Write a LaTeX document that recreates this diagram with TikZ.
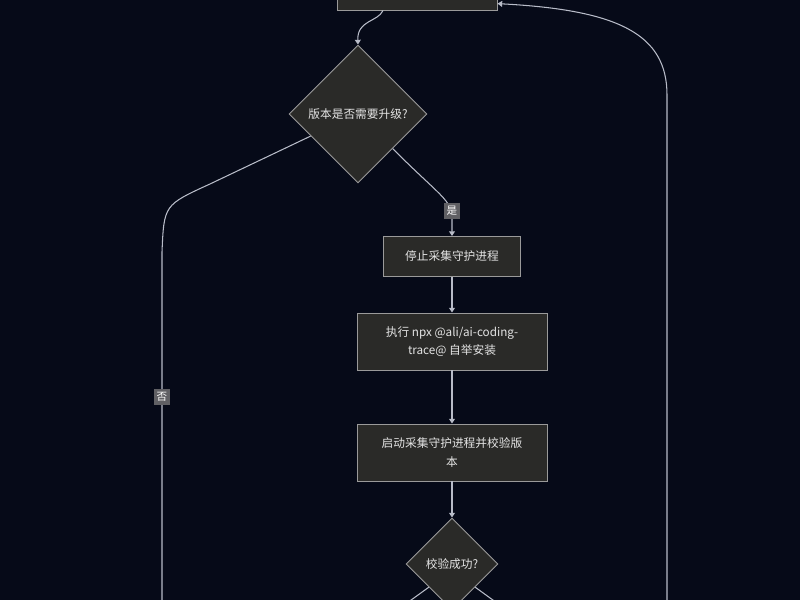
\documentclass[tikz,border=0pt]{standalone}
\usepackage{fontspec}
\setmainfont{Noto Sans CJK SC}
\usetikzlibrary{shapes.geometric,arrows.meta,calc}
\definecolor{bgc}{HTML}{060A18}
\definecolor{boxfill}{HTML}{2A2A28}
\definecolor{boxline}{HTML}{9A9A9A}
\definecolor{edgec}{HTML}{B8BCC8}
\definecolor{txtc}{HTML}{E4E4E4}
\definecolor{lblfill}{HTML}{606064}
\begin{document}
\begin{tikzpicture}[x=0.03cm,y=-0.03cm,>={Triangle[length=4pt,width=5pt]},
    font=\fontsize{10}{16}\selectfont,
    proc/.style={draw=boxline,fill=boxfill,text=txtc,line width=.8pt,align=center,inner sep=0pt},
    ask/.style={diamond,aspect=1,draw=boxline,fill=boxfill,text=txtc,line width=.8pt,inner sep=0pt},
    link/.style={draw=edgec,line width=.9pt,->},
    lbl/.style={fill=lblfill,text=white,inner xsep=2pt,inner ysep=3pt,font=\fontsize{9}{9}\selectfont}]
    \useasboundingbox (0,0) rectangle (800,600);
    \fill[bgc] (0,0) rectangle (800,600);
    \clip (0,0) rectangle (800,600);
    % nodes
    \node[proc,minimum width=4.8cm,minimum height=1.32cm] (top) at (417,-12) {};
    \node[ask,minimum size=4.14cm] (v1) at (358,114) {版本是否需要升级?};
    \node[proc,minimum width=4.11cm,minimum height=1.2cm] (stop) at (452,256.5) {停止采集守护进程};
    \node[proc,minimum width=5.7cm,minimum height=1.71cm] (inst) at (452,341.5) {执行 npx @ali/ai-coding-\\trace@ 自举安装};
    \node[proc,minimum width=5.7cm,minimum height=1.71cm] (start) at (452,452.5) {启动采集守护进程并校验版\\本};
    \node[ask,minimum size=2.76cm] (v2) at (452,564) {校验成功?};
    % loose ends below the frame
    \coordinate (noend) at (162,640);
    \coordinate (back) at (667,640);
    \coordinate (v2l) at (378,624);
    \coordinate (v2r) at (526,624);
    % connectors
    \draw[link] ($(top.south)+(-34,0)$) .. controls (378,22) and (357,20) .. (v1.north);
    \draw[link] (v1.-45) .. controls (440,196) and (452,200) .. (452,218)
        node[lbl] (yes) at (452,211) {是} -- (stop.north);
    \draw[link] (stop) -- (inst);
    \draw[link] (inst) -- (start);
    \draw[link] (start) -- (v2);
    \draw[draw=edgec,line width=.9pt] (v1.-155) -- (210,184) .. controls (164,205) .. (162,252) -- (noend);
    \node[lbl] (no) at (162,397) {否};
    \draw[link] (back) -- (667,95) .. controls (667,35) and (620,10) .. (top.-11);
    \draw[draw=edgec,line width=.9pt] (v2.-135) -- (v2l);
    \draw[draw=edgec,line width=.9pt] (v2.-45) -- (v2r);
\end{tikzpicture}
\end{document}
